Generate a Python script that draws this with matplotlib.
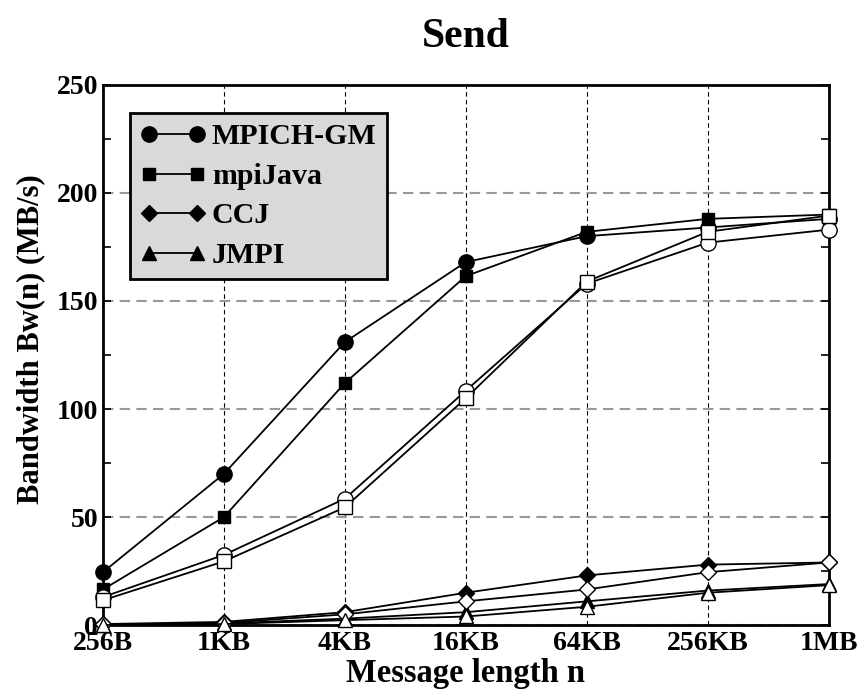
import numpy as np
import matplotlib.pyplot as plt
from matplotlib.ticker import MultipleLocator

plt.rcParams['font.family'] = ['Liberation Serif', 'DejaVu Serif']
plt.rcParams['font.weight'] = 'bold'

# data
sizes = ['256B', '1KB', '4KB', '16KB', '64KB', '256KB', '1MB']
mpich = [24.5, 70, 131, 168, 180, 184, 188]
mpijava = [16.5, 50, 112, 161.5, 182, 188, 190]
ccj = [0.5, 1.5, 6, 15, 23, 28, 29]
jmpi = [0.2, 0.8, 3, 6, 11, 16, 19]
# open markers (no legend entry)
mpich_o = [13, 32.5, 58.5, 108.5, 158, 177, 183]
mpijava_o = [11.5, 29.5, 54.5, 105, 159, 182, 189.5]
ccj_o = [0.3, 1, 5, 11, 16.5, 24.5, 29]
jmpi_o = [0.1, 0.5, 2.3, 4, 8.5, 15, 18.5]

x = np.arange(len(sizes))

fig = plt.figure(figsize=(8.65, 6.9), dpi=100)
ax = fig.add_axes([0.119, 0.094, 0.839, 0.783])

filled = [(mpich, 'o', 11, 'MPICH-GM'), (mpijava, 's', 9, 'mpiJava'),
          (ccj, 'D', 8, 'CCJ'), (jmpi, '^', 10, 'JMPI')]
opened = [(mpich_o, 'o', 11), (mpijava_o, 's', 10), (ccj_o, 'D', 8), (jmpi_o, '^', 10)]

for ys, m, ms, lab in filled:
    ax.plot(x, ys, color='black', lw=1.3, marker=m, ms=ms, mfc='black',
            mec='black', label=lab, zorder=3, clip_on=False)
for ys, m, ms in opened:
    ax.plot(x, ys, color='black', lw=1.3, marker=m, ms=ms, mfc='white',
            mec='black', mew=1.0, zorder=4, clip_on=False)

ax.set_xlim(0, 6)
ax.set_ylim(0, 250)
ax.set_xticks(x)
ax.set_xticklabels(sizes)
ax.yaxis.set_major_locator(MultipleLocator(50))
ax.yaxis.set_minor_locator(MultipleLocator(25))
ax.tick_params(axis='both', which='both', direction='in', labelsize=20, width=1.2)
ax.tick_params(axis='y', which='both', right=True, length=6)
ax.tick_params(axis='x', length=0, pad=4)
for s in ax.spines.values():
    s.set_linewidth(2)

# grid: gray dashed horizontal, black dashed vertical
ax.yaxis.grid(True, which='major', color='#999999', ls=(0, (5, 3)), lw=1.5)
ax.xaxis.grid(True, color='black', ls=(0, (4, 3)), lw=0.8)
ax.set_axisbelow(True)

ax.set_xlabel('Message length n', fontsize=23.5, fontweight='bold', labelpad=2)
ax.set_ylabel('Bandwidth Bw(n) (MB/s)', fontsize=22, fontweight='bold')
ax.yaxis.set_label_coords(-0.08, 0.53)
ax.set_title('Send', fontsize=30, fontweight='bold', pad=27)

leg = ax.legend(loc='upper left', bbox_to_anchor=(0.037, 0.948), numpoints=2,
                fontsize=21.5, fancybox=False, framealpha=1, facecolor='#d9d9d9',
                edgecolor='black', handlelength=2.2, handletextpad=0.2,
                labelspacing=0.42, borderpad=0.35, borderaxespad=0)
leg.get_frame().set_linewidth(2)

plt.savefig('out.png', dpi=100)
